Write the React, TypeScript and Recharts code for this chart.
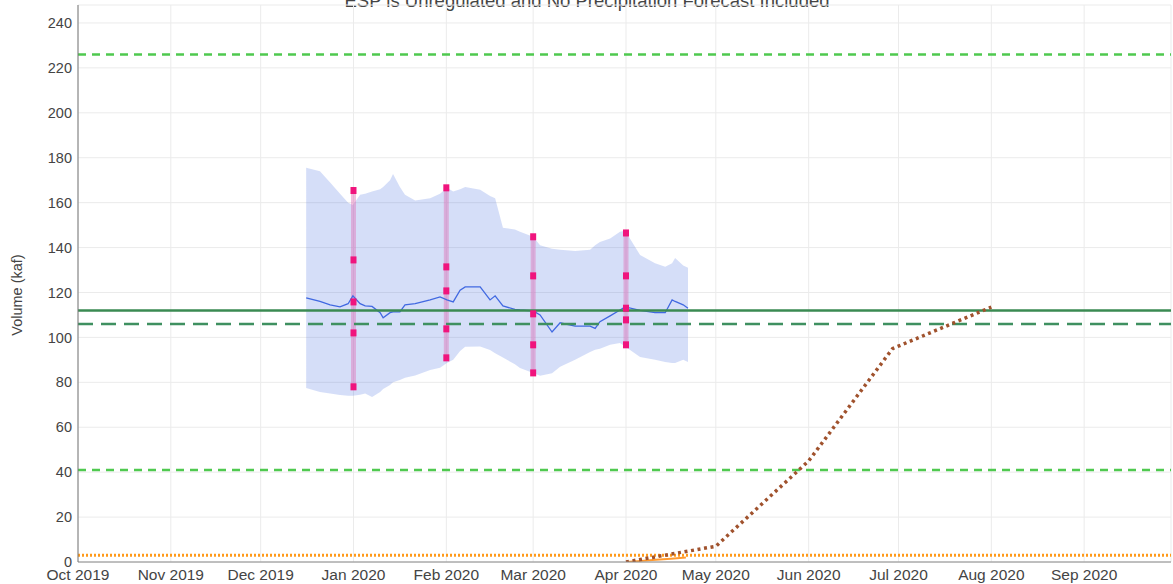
import React from 'react';
import {
  ComposedChart, XAxis, YAxis, CartesianGrid, Line, Area, Scatter, ReferenceLine,
} from 'recharts';

// x values are days since 1 Oct 2019
const MONTH_TICKS = [0, 31, 61, 92, 123, 152, 183, 213, 244, 274, 305, 336];
const MONTH_LABELS = ['Oct 2019', 'Nov 2019', 'Dec 2019', 'Jan 2020', 'Feb 2020', 'Mar 2020', 'Apr 2020', 'May 2020', 'Jun 2020', 'Jul 2020', 'Aug 2020', 'Sep 2020'];
const Y_TICKS = [0, 20, 40, 60, 80, 100, 120, 140, 160, 180, 200, 220, 240];

// ESP ensemble band
const BAND_DAYS = [76.2, 80.8, 84.2, 87.5, 90.2, 91.8, 94.2, 95.9, 98.2, 100.9, 101.9, 104.2, 105.2, 107.5, 109.2, 112.6, 117.6, 120.9, 123.2, 125.3, 127.6, 129.3, 134.3, 137.6, 139.3, 141.9, 145.9, 147.6, 152, 154.3, 158.3, 161, 166, 171, 172.7, 174.3, 177.7, 181, 182.7, 187.7, 192.7, 196.1, 198.4, 199.4, 202.1, 203.7];
const BAND_UPPER = [175.5, 174, 169, 164, 160, 159, 163.5, 164, 165, 166, 167, 170, 172.8, 167, 163.5, 161, 162, 164, 166.6, 165, 166, 167, 165.7, 163, 162, 148.8, 148, 147, 144.8, 141, 139.5, 139, 138.5, 139, 141, 142.5, 144, 147, 147.5, 136.7, 133, 131.5, 133, 135.4, 132, 131];
const BAND_LOWER = [77.5, 75.7, 75, 74.4, 74, 74, 74.5, 75, 73.5, 75.7, 77, 78.8, 80, 81, 82, 83, 85.5, 86.5, 88.6, 90, 94, 95.8, 96, 94.4, 93, 91, 88, 86.4, 84.2, 82.9, 84, 86.9, 90, 93.5, 94.5, 95, 96.7, 97.5, 96, 91.3, 90, 89, 88.6, 88.6, 90, 89];
const BAND_MEDIAN = [117.6, 116, 114.5, 113.6, 115, 118.5, 115, 114, 113.8, 111, 108.7, 111, 111.4, 111.4, 114.5, 115, 116.7, 118, 116.7, 115.8, 121, 122.5, 122.5, 116.7, 118.5, 114, 112.5, 112.2, 111.8, 110, 102.4, 106.5, 105, 105, 104, 107, 109.6, 112.2, 113.6, 112, 111, 111, 116.7, 116, 114.5, 113];

// Monthly forecast percentiles
const FORECAST_DAYS = [92, 123, 152, 183];
const FORECAST_VALUES = [
  [165.4, 134.5, 115.8, 102, 78],
  [166.6, 131.4, 120.7, 103.8, 90.9],
  [144.8, 127.4, 110.5, 96.7, 84.2],
  [146.5, 127.4, 113, 107.8, 96.7],
];

// Typical fill curve
const FILL_DAYS = [183, 213, 244, 272, 305];
const FILL_VALUES = [0, 7, 45, 95, 113.5];

// Observed
const OBS_DAYS = [183, 188, 193, 198, 203];
const OBS_VALUES = [0, 0.5, 1, 1.5, 2];

// Reference levels
const LIMIT_HIGH = 226;
const LIMIT_LOW = 41;
const LEVEL_SOLID = 112;
const LEVEL_DASHED = 106;
const LEVEL_BOTTOM = 3;

const bandData = BAND_DAYS.map((d, i) => ({ day: d, range: [BAND_LOWER[i], BAND_UPPER[i]], median: BAND_MEDIAN[i] }));
const fillData = FILL_DAYS.map((d, i) => ({ day: d, v: FILL_VALUES[i] }));
const obsData = OBS_DAYS.map((d, i) => ({ day: d, v: OBS_VALUES[i] }));
const forecastBars = FORECAST_DAYS.map((d, i) => [
  { day: d, v: Math.max(...FORECAST_VALUES[i]) },
  { day: d, v: Math.min(...FORECAST_VALUES[i]) },
]);
const forecastPoints = FORECAST_DAYS.flatMap((d, i) => FORECAST_VALUES[i].map((v) => ({ day: d, v })));

const FONT = '"Liberation Sans", Arial, sans-serif';

const monthLabel = (v: number) => {
  const i = MONTH_TICKS.indexOf(v);
  return i >= 0 ? MONTH_LABELS[i] : '';
};

const SquareShape = (p: any) => (
  <rect x={p.cx - 3} y={p.cy - 3.5} width={6} height={7} fill="#f0147d" />
);

const YLabel = () => (
  <text x={17} y={295} transform="rotate(-90 17 295)" textAnchor="middle" dominantBaseline="central"
    fontSize={14.5} fill="#444" fontFamily={FONT}>Volume (kaf)</text>
);

export default function App() {
  return (
    <div style={{ position: 'absolute', left: 0, top: 0, width: 1173, height: 584, background: '#fff', overflow: 'hidden' }}>
      <div style={{
        position: 'absolute', left: 0, width: 1173, top: -8, fontFamily: FONT,
        fontSize: 18.5, lineHeight: '18px', color: '#444',
      }}>
        <span style={{ position: 'absolute', left: 587, transform: 'translateX(-50%)', whiteSpace: 'nowrap' }}>
          ESP is Unregulated and No Precipitation Forecast Included
        </span>
      </div>
      <ComposedChart width={1173} height={584} margin={{ top: 5, right: 2, left: 0, bottom: 0 }}>
        <CartesianGrid stroke="#ebebeb" strokeWidth={1} />
        <XAxis
          type="number" dataKey="day" domain={[0, 365]} ticks={MONTH_TICKS} tickFormatter={monthLabel}
          height={22} tickLine={false} tickSize={0} tickMargin={7} interval={0}
          stroke="#888" tick={{ fontSize: 15.5, fill: '#444', fontFamily: FONT }} allowDataOverflow
        />
        <YAxis
          type="number" domain={[0, 248]} ticks={Y_TICKS} width={78} tickLine={false} tickSize={0} tickMargin={6}
          stroke="#777" tick={{ fontSize: 14.5, fill: '#444', fontFamily: FONT }} allowDataOverflow
          label={<YLabel />}
        />
        <ReferenceLine y={LIMIT_HIGH} stroke="#4fc94f" strokeWidth={2.5} strokeDasharray="8 6" />
        <ReferenceLine y={LIMIT_LOW} stroke="#4fc94f" strokeWidth={2.5} strokeDasharray="8 6" />
        <Area data={bandData} dataKey="range" type="linear" fill="#4169e1" fillOpacity={0.22} stroke="none" isAnimationActive={false} />
        {forecastBars.map((bar, i) => (
          <Line key={'bar' + i} data={bar} dataKey="v" stroke="#e070b8" strokeOpacity={0.45} strokeWidth={5} dot={false} isAnimationActive={false} />
        ))}
        <Line data={bandData} dataKey="median" type="linear" stroke="#4169e1" strokeWidth={1.3} dot={false} isAnimationActive={false} />
        <ReferenceLine y={LEVEL_SOLID} stroke="#3a8a52" strokeWidth={2.5} />
        <ReferenceLine y={LEVEL_DASHED} stroke="#3f9060" strokeWidth={2.5} strokeDasharray="15 8" />
        <ReferenceLine y={LEVEL_BOTTOM} stroke="#ff9a1a" strokeWidth={3} strokeDasharray="2 2" />
        <Line data={obsData} dataKey="v" type="linear" stroke="#ff9a30" strokeWidth={2} dot={false} isAnimationActive={false} />
        <Line data={fillData} dataKey="v" type="linear" stroke="#a0522d" strokeWidth={3.5} strokeDasharray="3 3.6" dot={false} isAnimationActive={false} />
        <Scatter data={forecastPoints} dataKey="v" shape={SquareShape} isAnimationActive={false} />
      </ComposedChart>
    </div>
  );
}
